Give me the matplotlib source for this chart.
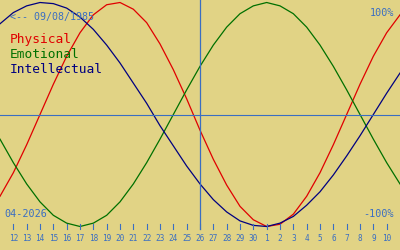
import numpy as np
import matplotlib
matplotlib.use("Agg")
import matplotlib.pyplot as plt
import matplotlib.transforms as mtransforms

# days shown: Apr 11 .. May 11, 2026 (index 0..30), today = Apr 26
day_labels = [11, 12, 13, 14, 15, 16, 17, 18, 19, 20, 21, 22, 23, 24, 25, 26,
              27, 28, 29, 30, 1, 2, 3, 4, 5, 6, 7, 8, 9, 10, 11]
today_idx = 15

physical = [-73, -52, -27, 0, 27, 52, 73, 89, 98, 100, 94, 82, 63, 40, 14, -14,
            -40, -63, -82, -94, -100, -98, -89, -73, -52, -27, 0, 27, 52, 73, 89]
emotional = [-22, -43, -62, -78, -90, -97, -100, -97, -90, -78, -62, -43, -22, 0, 22, 43,
             62, 78, 90, 97, 100, 97, 90, 78, 62, 43, 22, 0, -22, -43, -62]
intellectual = [81, 91, 97, 100, 99, 95, 87, 76, 62, 46, 28, 10, -10, -28, -46, -62,
                -76, -87, -95, -99, -100, -97, -91, -81, -69, -54, -37, -19, 0, 19, 37]

bg = '#e1d385'
blue = '#3a6ec2'
W, H = 400, 250

fig = plt.figure(figsize=(4, 2.5), dpi=100, facecolor=bg)
ax = fig.add_axes([0, 0, 1, 1])
ax.set_facecolor(bg)
ax.set_axis_off()

x = np.arange(len(physical))
ax.plot(x, physical, color='#e00000', lw=0.9)
ax.plot(x, emotional, color='#007000', lw=0.9)
ax.plot(x, intellectual, color='#000080', lw=0.9)

# pixel mapping: value 0 at y=114.5 px from top, 100% = 112 px
mid, amp = 114.5, 1.12
ax.set_xlim(0, 30)
ax.set_ylim((mid - H) / amp, mid / amp)

ax.axhline(0, color=blue, lw=0.8)

def fy(py):
    return 1 - py / H

trans = mtransforms.blended_transform_factory(ax.transData, ax.transAxes)
ax.plot([today_idx, today_idx], [1, fy(229)], color=blue, lw=0.9, transform=trans)

for i in range(1, 30):
    ax.plot([i, i], [fy(224), fy(229)], color=blue, lw=0.8, transform=trans)
    ax.text(i, fy(241), str(day_labels[i]), color=blue, fontsize=5.6,
            family='DejaVu Sans Mono', ha='center', va='baseline', transform=trans)

def txt(px, py, s, color, size, ha='left'):
    ax.text(px / W, fy(py), s, color=color, fontsize=size, family='DejaVu Sans Mono',
            ha=ha, va='baseline', transform=ax.transAxes)

txt(10, 20, '<-- 09/08/1985', blue, 7.2)
txt(10, 43, 'Physical', '#e00000', 9.3)
txt(10, 58, 'Emotional', '#007000', 9.3)
txt(10, 73, 'Intellectual', '#000080', 9.3)
txt(394, 16, '100%', blue, 7.3, ha='right')
txt(394, 217, '-100%', blue, 7.3, ha='right')
txt(4, 217, '04-2026', blue, 7.3)

fig.savefig('out.png', dpi=100, facecolor=bg)
